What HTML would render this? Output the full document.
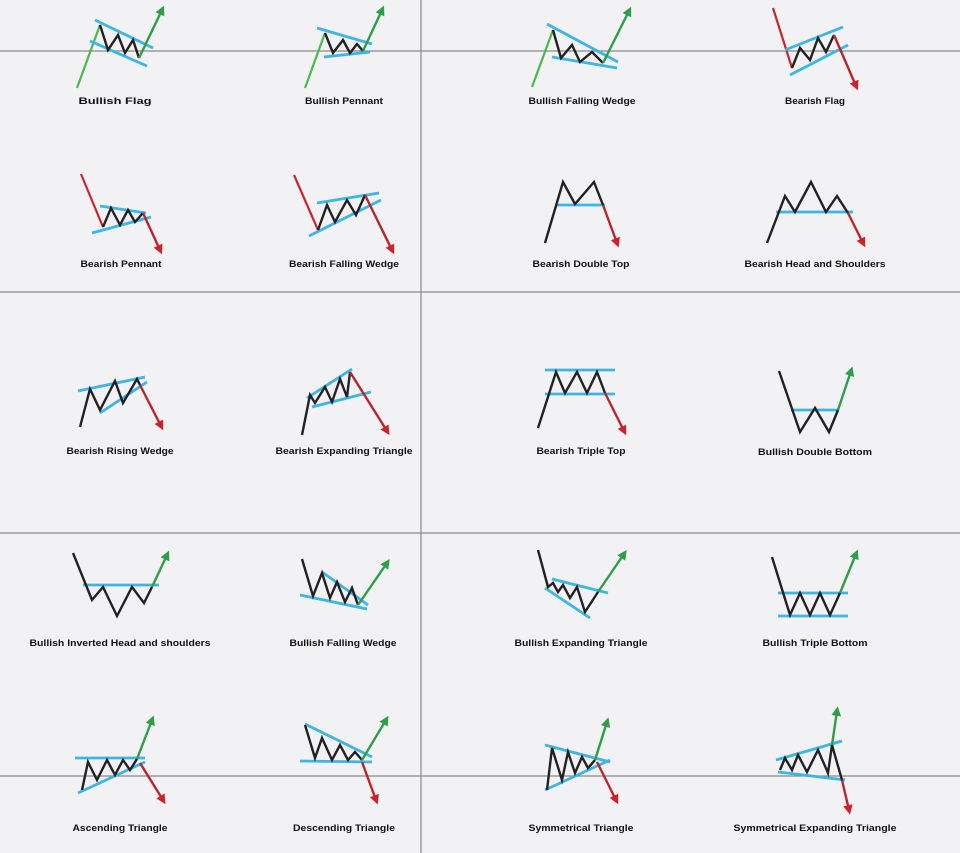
<!DOCTYPE html>
<html><head><meta charset="utf-8"><style>
html,body{margin:0;padding:0;background:#f2f1f3;}
svg{display:block;}
text{font-family:"Liberation Sans",sans-serif;font-weight:bold;font-size:9.5px;fill:#111;}
</style></head><body>
<svg id="s" width="960" height="853" viewBox="0 0 960 853" xmlns="http://www.w3.org/2000/svg">
<defs>
<marker id="ag" viewBox="0 0 10 10" refX="5" refY="5" markerWidth="4" markerHeight="4" orient="auto-start-reverse"><path d="M0,0L10,5L0,10z" fill="#2e9e48"/></marker>
<marker id="ar" viewBox="0 0 10 10" refX="5" refY="5" markerWidth="4" markerHeight="4" orient="auto-start-reverse"><path d="M0,0L10,5L0,10z" fill="#d0202a"/></marker>
</defs>
<rect width="960" height="853" fill="#f2f1f3"/>
<g stroke="#8a8a8a" stroke-width="1.2">
<line x1="0" y1="51" x2="960" y2="51"/><line x1="0" y1="292" x2="960" y2="292"/>
<line x1="0" y1="533" x2="960" y2="533"/><line x1="0" y1="776" x2="960" y2="776"/>
<line x1="421" y1="0" x2="421" y2="853"/>
</g>
<g id="pats"></g>
</svg>
<script>
const names=["Bullish Flag","Bullish Pennant","Bullish Falling Wedge","Bearish Flag","Bearish Pennant","Bearish Falling Wedge","Bearish Double Top","Bearish Head and Shoulders","Bearish Rising Wedge","Bearish Expanding Triangle","Bearish Triple Top","Bullish Double Bottom","Bullish Inverted Head and shoulders","Bullish Falling Wedge","Bullish Expanding Triangle","Bullish Triple Bottom","Ascending Triangle","Descending Triangle","Symmetrical Triangle","Symmetrical Expanding Triangle"];
const labelPos=[[115,101,73],[344,101,78],[582,101,107],[815,101,60],[121,264,81],[344,264,110],[581,264,97],[815,264,141],[120,451,107],[344,451,137],[581,451,89],[815,452,114],[120,643,181],[343,643,107],[581,643,133],[815,643,105],[120,828,95],[344,828,102],[581,828,105],[815,828,163]];
const cyanLines=[
[[95,20,153,48],[90,41,147,66]],
[[317,28,372,44],[324,57,370,52]],
[[547,24,618,62],[552,57,617,68]],
[[785,50,843,27],[790,75,848,45]],
[[100,206,146,213],[92,233,151,217]],
[[317,203,379,193],[309,236,381,200]],
[[557,205,605,205]],
[[776,212,853,212]],
[[78,391,145,377],[100,413,147,382]],
[[307,398,352,369],[312,407,371,392]],
[[545,370,615,370],[545,394,615,394]],
[[791,410,839,410]],
[[83,585,159,585]],
[[322,572,368,605],[300,595,367,609]],
[[552,579,608,593],[545,588,590,618]],
[[778,593,848,593],[778,616,848,616]],
[[75,758,145,758],[78,793,145,762]],
[[305,724,372,757],[300,761,372,762]],
[[545,745,610,762],[545,790,610,760]],
[[776,760,842,741],[778,772,845,780]]];
const blackLines=[
[100,25,108,50,118,35,125,53,133,40,139,58],
[325,33,333,53,343,40,350,53,357,44,363,51],
[553,30,561,58,572,45,580,62,592,52,603,63],
[792,68,800,48,810,60,818,38,826,52,834,35],
[103,227,111,208,120,225,128,210,135,222,143,213],
[318,230,327,205,335,222,347,200,356,215,365,195],
[545,243,563,182,575,204,594,182,603,205],
[767,243,785,196,795,212,811,182,826,212,837,196,848,213],
[80,427,90,389,100,410,115,381,123,403,137,379,140,385],
[302,435,310,395,315,403,325,387,332,402,340,379,347,397,350,372],
[538,428,556,372,565,393,577,372,587,393,597,372,605,393],
[779,371,800,432,815,408,829,432,838,410],
[73,553,92,600,103,587,117,616,132,587,144,603,152,587],
[302,559,313,596,322,573,330,598,337,582,345,602,352,588,358,605],
[538,550,548,587,553,583,558,592,563,585,570,598,577,587,585,612,598,592],
[772,557,790,615,800,593,810,615,820,593,830,615,840,593],
[82,790,88,762,97,780,107,760,115,775,123,760,130,770,137,759],
[305,725,315,758,322,738,332,760,340,745,348,760,355,752,362,760],
[547,790,552,748,562,780,568,752,575,773,582,757,588,768,595,760],
[780,770,785,758,792,770,798,755,807,772,818,750,828,773,832,745,842,780]];
const leadLines=[
[77,88,100,25,"g"],[305,88,325,33,"g"],[532,87,553,30,"g"],[773,8,792,68,"r"],
[81,174,103,227,"r"],[294,175,318,230,"r"]];
const arrows=[
[[139,58,162,10,"g"]],[[363,51,382,10,"g"]],[[603,63,629,11,"g"]],[[834,35,856,86,"r"]],
[[143,213,160,250,"r"]],[[365,195,392,250,"r"]],[[603,205,617,243,"r"]],[[848,213,863,243,"r"]],
[[140,385,161,426,"r"]],[[350,372,387,431,"r"]],[[605,393,624,431,"r"]],[[838,410,851,371,"g"]],
[[152,587,167,555,"g"]],[[358,605,387,563,"g"]],[[598,592,624,554,"g"]],[[840,593,856,554,"g"]],
[[137,759,152,720,"g"],[140,763,163,800,"r"]],[[362,760,386,720,"g"],[362,762,376,800,"r"]],
[[595,760,607,722,"g"],[597,762,616,800,"r"]],[[832,745,837,711,"g"],[842,780,849,810,"r"]]];
const NS="http://www.w3.org/2000/svg";
const root=document.getElementById('pats');
function mk(t,a){const e=document.createElementNS(NS,t);for(const k in a)e.setAttribute(k,a[k]);return e;}
const GC="#4cb84e",RC="#c8262c";
names.forEach((nm,i)=>{
  const g=mk('g',{});
  
  
  root.appendChild(g);
  if(i<leadLines.length){const l=leadLines[i];
    const e=mk('line',{x1:l[0],y1:l[1],x2:l[2],y2:l[3],stroke:l[4]=="g"?GC:RC,'stroke-width':2.2});
    
    
    g.appendChild(e);}
  cyanLines[i].forEach(c=>{
    const e=mk('line',{x1:c[0],y1:c[1],x2:c[2],y2:c[3],stroke:"#3cb6e3",'stroke-width':2.8});
    
    
    g.appendChild(e);});
  const b=blackLines[i];let pts=[];for(let k=0;k<b.length;k+=2)pts.push(b[k]+','+b[k+1]);
  const pl=mk('polyline',{points:pts.join(' '),fill:'none',stroke:'#222','stroke-width':2.4,'stroke-linejoin':'miter'});
  
  
  g.appendChild(pl);
  arrows[i].forEach(a=>{
    const e=mk('line',{x1:a[0],y1:a[1],x2:a[2],y2:a[3],stroke:a[4]=="g"?"#2e9e48":"#b8262c",'stroke-width':2.4,'marker-end':a[4]=="g"?'url(#ag)':'url(#ar)'});
    
    
    g.appendChild(e);});
  const p=labelPos[i];
  const t=mk('text',{x:p[0],y:p[1]+3,'text-anchor':'middle',textLength:p[2],lengthAdjust:'spacingAndGlyphs'});
  t.textContent=nm;
  
  
  g.appendChild(t);
});
</script>
</body></html>
